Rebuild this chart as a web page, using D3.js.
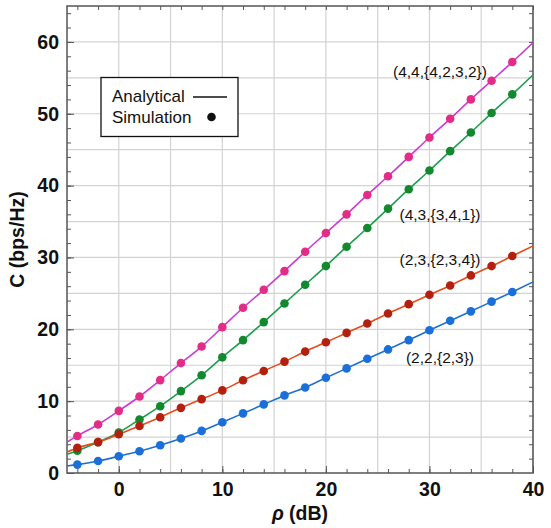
<!DOCTYPE html>
<html>
<head>
<meta charset="utf-8">
<script src="https://cdn.jsdelivr.net/npm/d3@7"></script>
<style>
  body { margin: 0; background: #fff; }
  svg text { font-family: "Liberation Sans", Arial, sans-serif; }
</style>
</head>
<body>
<svg id="chart" width="551" height="528"></svg>
<script>
// x positions of the simulation points (rho in dB)
const rho = d3.range(-4, 40, 2);

// simulation values
const c44 = [5.16, 6.75, 8.65, 10.65, 12.93, 15.3, 17.6, 20.3, 23.0, 25.5, 28.1, 30.8, 33.4, 36.0, 38.7, 41.3, 44.0, 46.7, 49.3, 52.0, 54.6, 57.2];
const c43 = [3.1, 4.3, 5.63, 7.45, 9.3, 11.4, 13.6, 16.1, 18.5, 21.0, 23.6, 26.2, 28.8, 31.5, 34.1, 36.8, 39.5, 42.1, 44.8, 47.4, 50.1, 52.7];
const c23 = [3.5, 4.3, 5.4, 6.55, 7.77, 9.07, 10.28, 11.5, 12.9, 14.2, 15.5, 16.9, 18.2, 19.5, 20.8, 22.2, 23.5, 24.8, 26.1, 27.5, 28.8, 30.2];
const c22 = [1.17, 1.67, 2.33, 3.03, 3.86, 4.8, 5.86, 7.07, 8.3, 9.55, 10.8, 11.9, 13.25, 14.56, 15.9, 17.2, 18.5, 19.86, 21.2, 22.5, 23.85, 25.2];

// analytical curve values at the frame edges (rho = -5 and rho = 40)
const edgeRho = [-5, 40];
const edge44 = [4.3, 59.9];
const edge43 = [2.6, 55.4];
const edge23 = [2.9, 31.6];
const edge22 = [0.98, 26.6];

const seriesNames = ["(4,4,{4,2,3,2})", "(4,3,{3,4,1})", "(2,3,{2,3,4})", "(2,2,{2,3})"];
const xTicks = [0, 10, 20, 30, 40];
const yTicks = [0, 10, 20, 30, 40, 50, 60];

const series = [
  {name: seriesNames[0], sim: c44, edge: edge44, line: "#cc3ad6", dot: "#e22c86", lx: 440, ly: 72},
  {name: seriesNames[1], sim: c43, edge: edge43, line: "#1f9e4e", dot: "#12882f", lx: 440, ly: 215},
  {name: seriesNames[2], sim: c23, edge: edge23, line: "#e84c1c", dot: "#b3200f", lx: 440, ly: 260},
  {name: seriesNames[3], sim: c22, edge: edge22, line: "#1f6fcf", dot: "#1a6fd8", lx: 440, ly: 358}
];

const svg = d3.select("#chart");
const margin = {top: 6, right: 18, bottom: 55, left: 67};
const W = 551, H = 528;
const width = W - margin.left - margin.right,
      height = H - margin.top - margin.bottom;

const x = d3.scaleLinear().domain([-5, 40]).range([0, width]);
const y = d3.scaleLinear().domain([0, 65]).range([height, 0]);

const g = svg.append("g")
  .attr("transform", "translate(" + margin.left + "," + margin.top + ")");

// grid every 5 units
g.append("g").selectAll("line")
  .data(d3.range(0, 41, 5))
  .enter().append("line")
  .attr("x1", d => x(d)).attr("x2", d => x(d))
  .attr("y1", 0).attr("y2", height)
  .attr("stroke", "#d3d3d3").attr("stroke-width", 1.2);
g.append("g").selectAll("line")
  .data(d3.range(5, 65, 5))
  .enter().append("line")
  .attr("x1", 0).attr("x2", width)
  .attr("y1", d => y(d)).attr("y2", d => y(d))
  .attr("stroke", "#d3d3d3").attr("stroke-width", 1.2);

// frame ticks (inward), major 10 and minor 2
function frameTicks(axisGen, transform) {
  const a = g.append("g").attr("transform", transform).call(axisGen);
  a.select(".domain").remove();
  a.selectAll("line").attr("stroke", "#555");
  return a;
}
const xMinor = d3.range(-4, 41, 2), yMinor = d3.range(2, 65, 2);
frameTicks(d3.axisBottom(x).tickValues(xMinor).tickSize(-4).tickFormat(""), "translate(0," + height + ")");
frameTicks(d3.axisTop(x).tickValues(xMinor).tickSize(-4).tickFormat(""), "translate(0,0)");
frameTicks(d3.axisLeft(y).tickValues(yMinor).tickSize(-4).tickFormat(""), "translate(0,0)");
frameTicks(d3.axisRight(y).tickValues(yMinor).tickSize(-4).tickFormat(""), "translate(" + width + ",0)");

const xAxis = g.append("g")
  .attr("transform", "translate(0," + height + ")")
  .call(d3.axisBottom(x).tickValues(xTicks).tickSize(-7).tickPadding(9));
xAxis.select(".domain").remove();
xAxis.selectAll("line").attr("stroke", "#555");
xAxis.selectAll("text").attr("fill", "#111").style("font-size", "19.5px").style("font-weight", "bold")
  .style("font-family", "Liberation Sans, Arial, sans-serif");

const yAxis = g.append("g")
  .call(d3.axisLeft(y).tickValues(yTicks).tickSize(-7).tickPadding(8));
yAxis.select(".domain").remove();
yAxis.selectAll("line").attr("stroke", "#555");
yAxis.selectAll("text").attr("fill", "#111").style("font-size", "19.5px").style("font-weight", "bold")
  .style("font-family", "Liberation Sans, Arial, sans-serif");

// frame
g.append("rect")
  .attr("width", width).attr("height", height)
  .attr("fill", "none").attr("stroke", "#555").attr("stroke-width", 1.5);

// curves and points
const line = d3.line()
  .curve(d3.curveMonotoneX)
  .x(d => x(d[0])).y(d => y(d[1]));

const clip = svg.append("clipPath").attr("id", "clip")
  .append("rect").attr("width", width).attr("height", height);

series.forEach(s => {
  const pts = [[edgeRho[0], s.edge[0]]]
    .concat(rho.map((r, i) => [r, s.sim[i]]))
    .concat([[edgeRho[1], s.edge[1]]]);
  g.append("path")
    .attr("d", line(pts))
    .attr("fill", "none")
    .attr("stroke", s.line)
    .attr("stroke-width", 1.6)
    .attr("clip-path", "url(#clip)");
});

series.forEach(s => {
  g.append("g").selectAll("circle")
    .data(rho.map((r, i) => [r, s.sim[i]]))
    .enter().append("circle")
    .attr("cx", d => x(d[0]))
    .attr("cy", d => y(d[1]))
    .attr("r", 4.3)
    .attr("fill", s.dot);
});

// series labels
series.forEach(s => {
  svg.append("text")
    .attr("x", s.lx).attr("y", s.ly)
    .attr("text-anchor", "middle")
    .attr("dy", "0.35em")
    .style("font-size", "15.5px")
    .attr("fill", "#111")
    .text(s.name);
});

// legend
const leg = svg.append("g");
leg.append("rect")
  .attr("x", 101).attr("y", 77.5).attr("width", 137).attr("height", 59)
  .attr("fill", "#fff").attr("stroke", "#111").attr("stroke-width", 1.3);
leg.append("text").attr("x", 112).attr("y", 96.5).attr("dy", "0.35em")
  .style("font-size", "17px").attr("fill", "#111").text("Analytical");
leg.append("text").attr("x", 112).attr("y", 117).attr("dy", "0.35em")
  .style("font-size", "17px").attr("fill", "#111").text("Simulation");
leg.append("line").attr("x1", 193).attr("x2", 227).attr("y1", 97).attr("y2", 97)
  .attr("stroke", "#111").attr("stroke-width", 1.6);
leg.append("circle").attr("cx", 211.5).attr("cy", 117).attr("r", 4.3).attr("fill", "#111");

// axis titles
svg.append("text")
  .attr("transform", "translate(24," + (margin.top + height / 2) + ") rotate(-90)")
  .attr("text-anchor", "middle")
  .style("font-size", "19.5px").style("font-weight", "bold").attr("fill", "#111")
  .text("C (bps/Hz)");

const xt = svg.append("text")
  .attr("x", margin.left + width / 2).attr("y", 520)
  .attr("text-anchor", "middle")
  .style("font-size", "19.5px").style("font-weight", "bold").attr("fill", "#111");
xt.append("tspan").style("font-style", "italic").text("ρ");
xt.append("tspan").text(" (dB)");
</script>
</body>
</html>
